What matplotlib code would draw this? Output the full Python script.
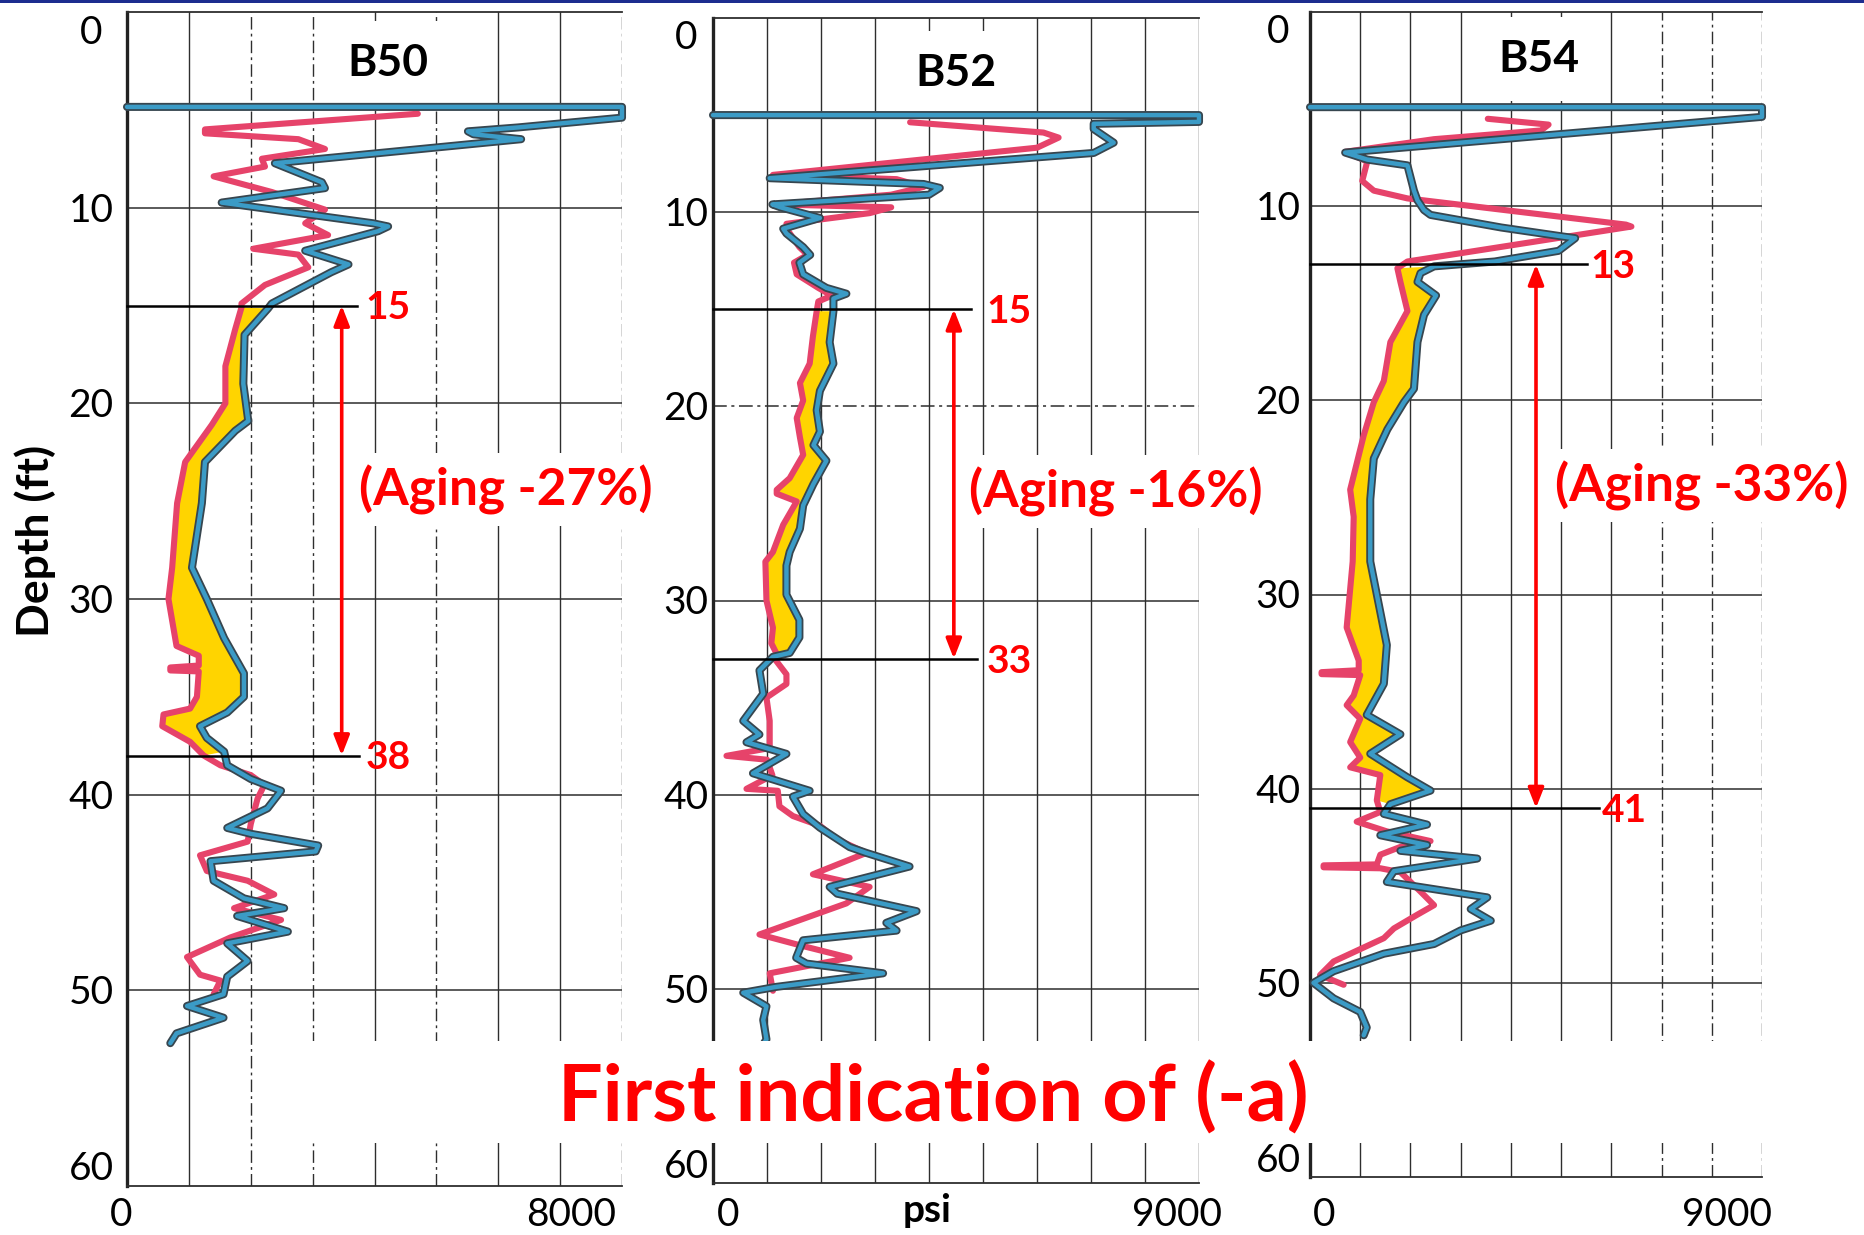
import numpy as np
import matplotlib
matplotlib.use("Agg")
import matplotlib.pyplot as plt
import matplotlib.transforms as mtransforms
from matplotlib import patheffects as pe
from matplotlib.patches import Rectangle

plt.rcParams['font.family'] = ['Lato', 'DejaVu Sans']

W, H, DPI = 1864, 1235, 100

# ---------------- data: (tip resistance psi, depth ft) ----------------
b50_red = [(4700, 5.2), (1260, 6.0), (1260, 6.2), (2770, 6.5), (3200, 7.0), (2180, 7.5),
           (2230, 7.9), (1400, 8.4), (2340, 9.2), (3200, 10.1), (2880, 10.8), (3250, 11.4),
           (2040, 12.1), (2770, 12.4), (2930, 13.05), (2500, 13.6), (2230, 13.95), (1850, 14.9),
           (1850, 15.1), (1750, 16.2), (1590, 18.1), (1590, 20.0), (1370, 21.1), (940, 23.0),
           (810, 25.1), (730, 28.4), (670, 30.0), (800, 32.4), (1160, 32.9), (1160, 33.4),
           (700, 33.5), (700, 33.65), (1160, 33.7), (1130, 35.0), (1020, 35.6), (590, 35.9),
           (570, 36.5), (1020, 37.3), (1240, 38.0), (1510, 38.5), (2000, 39.0), (2220, 39.5),
           (2110, 40.2), (2000, 41.5), (1950, 42.4), (1180, 43.1), (1290, 43.9), (1950, 44.4),
           (2380, 45.1), (1730, 45.8), (2490, 46.4), (1670, 47.3), (970, 48.3), (1180, 49.2),
           (1510, 49.5), (1400, 50.2)]
b50_blue = [(0, 4.85), (8000, 4.85), (8000, 5.4), (6320, 5.9), (5510, 6.1), (5600, 6.25),
            (6370, 6.5), (2390, 7.73), (3150, 8.7), (3200, 9.0), (1530, 9.74), (3980, 10.8),
            (4220, 10.96), (4060, 11.2), (2880, 12.2), (3580, 12.9), (3300, 13.3), (2820, 14.1),
            (2340, 14.9), (2280, 15.15), (1900, 16.5), (1880, 19.0), (1960, 20.9), (1750, 21.4),
            (1260, 23.0), (1210, 25.1), (1050, 28.4), (1290, 30.0), (1570, 32.0), (1890, 33.8),
            (1890, 35.0), (1620, 35.8), (1180, 36.5), (1290, 37.1), (1570, 37.8), (1620, 38.5),
            (2000, 39.2), (2490, 39.8), (2270, 40.7), (1620, 41.7), (2000, 42.0), (3090, 42.6),
            (3050, 42.9), (1350, 43.4), (1400, 44.4), (1890, 45.3), (2540, 45.8), (1780, 46.2),
            (2600, 47.0), (1620, 47.6), (1950, 48.5), (1620, 49.3), (1560, 50.2), (970, 50.8),
            (1560, 51.4), (800, 52.2), (700, 52.7)]

b52_red = [(3650, 5.37), (6120, 5.9), (6400, 6.16), (6000, 6.68), (1110, 8.08), (3400, 8.3),
           (3900, 8.7), (3300, 9.1), (1150, 9.6), (3300, 9.75), (2900, 10.05), (1360, 10.6),
           (1400, 11.0), (1600, 11.8), (1750, 12.2), (1500, 12.6), (1550, 13.2), (1950, 13.9),
           (2200, 14.3), (1950, 14.6), (1920, 15.1), (1850, 16.4), (1790, 17.8), (1610, 18.8),
           (1670, 19.7), (1550, 20.6), (1610, 21.6), (1670, 22.5), (1420, 23.7), (1180, 24.3),
           (1180, 24.5), (1550, 24.9), (1300, 26.1), (1110, 27.5), (970, 28.0), (990, 30.0),
           (1110, 31.4), (1080, 32.2), (1170, 32.7), (1140, 33.0), (1360, 33.8), (1360, 34.3),
           (990, 35.0), (1050, 36.2), (1050, 37.6), (250, 38.0), (1000, 38.2), (1100, 39.0),
           (620, 39.7), (1200, 39.8), (1230, 40.6), (1480, 41.1), (1980, 41.6), (2300, 42.3),
           (2840, 43.0), (1850, 44.1), (2900, 44.75), (2470, 45.6), (860, 47.2), (1670, 47.8),
           (2530, 48.4), (1050, 49.2), (1110, 50.1)]
b52_blue = [(0, 5.0), (9000, 5.0), (9000, 5.35), (7050, 5.45), (7050, 5.72), (7420, 6.42),
            (7050, 6.95), (1050, 8.25), (3900, 8.55), (4200, 8.75), (4000, 9.1), (1100, 9.6),
            (1250, 9.75), (1980, 10.3), (1300, 10.85), (1360, 11.1), (1670, 11.8), (1800, 12.2),
            (1600, 12.6), (1670, 13.2), (2100, 13.9), (2470, 14.2), (2230, 14.45), (2230, 15.1),
            (2160, 16.7), (2230, 17.8), (1980, 19.2), (1920, 20.2), (1980, 21.3), (1860, 22.0),
            (2100, 22.8), (1860, 24.0), (1670, 25.1), (1610, 26.3), (1420, 27.5), (1360, 28.2),
            (1360, 29.7), (1600, 31.0), (1600, 31.9), (1420, 32.7), (1110, 32.9), (860, 33.6),
            (930, 34.8), (560, 36.2), (860, 36.9), (620, 37.3), (1360, 37.9), (740, 38.9),
            (1790, 39.8), (1480, 40.1), (1670, 41.0), (1980, 41.7), (2530, 42.7), (2840, 43.0),
            (3640, 43.7), (2160, 44.75), (2300, 45.1), (3770, 46.0), (3210, 46.6), (3400, 47.0),
            (1670, 47.5), (1540, 48.4), (1730, 48.7), (3150, 49.2), (1170, 49.9), (560, 50.2),
            (990, 50.9), (930, 51.6), (990, 52.6), (900, 53.0)]

b54_red = [(3540, 5.5), (4750, 5.8), (4600, 6.1), (2470, 6.55), (700, 7.2), (1140, 7.7),
           (1040, 8.7), (1270, 9.2), (1940, 9.6), (6290, 10.95), (6400, 11.05), (1940, 12.85),
           (1740, 13.2), (1800, 13.9), (1940, 15.4), (1600, 17.0), (1470, 19.0), (1270, 20.1),
           (1070, 21.8), (800, 24.6), (870, 26.0), (850, 28.3), (730, 31.7), (970, 33.4),
           (970, 33.9), (230, 34.0), (230, 34.1), (1000, 34.15), (870, 35.2), (730, 35.7),
           (1000, 36.4), (800, 37.6), (1000, 38.4), (800, 38.9), (1400, 39.3), (1330, 40.6),
           (1400, 41.2), (930, 41.7), (1530, 42.2), (2400, 42.7), (1800, 43.0), (1400, 43.4),
           (1330, 43.9), (270, 43.95), (270, 44.05), (1400, 44.1), (1800, 44.3), (2200, 45.3),
           (2470, 46.0), (2130, 46.5), (1670, 47.2), (1470, 47.7), (470, 48.9), (200, 49.6),
           (670, 50.1)]
b54_blue = [(0, 4.9), (9000, 4.9), (9000, 5.4), (700, 7.24), (1140, 7.6), (1940, 7.9),
            (2070, 9.2), (2140, 9.7), (2270, 10.2), (2400, 10.45), (3810, 11.1), (5000, 11.55),
            (5280, 11.65), (4950, 12.3), (3680, 12.85), (2470, 13.1), (2200, 13.45), (2140, 13.9),
            (2510, 14.6), (2270, 15.6), (2140, 17.0), (2070, 19.4), (1870, 20.1), (1540, 21.5),
            (1270, 23.0), (1200, 25.1), (1200, 28.3), (1530, 32.6), (1470, 34.6), (1130, 36.2),
            (1800, 37.2), (1200, 38.2), (1930, 39.4), (2400, 40.1), (1600, 40.8), (1470, 41.3),
            (2330, 41.85), (1400, 42.4), (2330, 42.9), (1800, 43.2), (3330, 43.6), (1670, 44.25),
            (1530, 44.8), (3530, 45.6), (3200, 46.2), (3600, 46.8), (3000, 47.3), (2470, 48.0),
            (1470, 48.5), (470, 49.4), (70, 50.0), (470, 50.8), (1000, 51.5), (1130, 52.3),
            (1070, 52.7)]

borings = ["B50", "B52", "B54"]
red_logs = [b50_red, b52_red, b54_red]
blue_logs = [b50_blue, b52_blue, b54_blue]
psi_max = [8000, 9000, 9000]
depth_ticks = [0, 10, 20, 30, 40, 50, 60]
zone_top = [15, 15, 13]
zone_bottom = [38, 33, 41]
aging_pct = [-27, -16, -33]

# ---------------- layout (pixels) ----------------
panel_box = [(127, 12, 622, 1186), (713, 18, 1199, 1183), (1310, 12, 1762, 1177)]
ylabel_cx = [91, 686, 1278]
xlabel_zero_cx = [121, 728, 1324]
xlabel_max_right = [616, 1222, 1772]
title_xy = [(388, 63), (956, 73), (1539, 59)]
dashed_x = [[2000, 3000, 5000, 8000], [], [7000, 8000, 9000]]
dashed_y = [[], [20], []]
arrow_psi = [3470, 4460, 4500]
line_end_psi = [(3720, 3750), (4780, 4890), (5510, 5750)]
label_psi = [(3860, 3860), (5070, 5070), (5590, 5810)]
aging_psi = [3750, 4740, 4880]

RED = "#e6436a"
BLUE = "#3b9bc6"
BLUE_EDGE = "#37464f"
YELLOW = "#ffd400"
GRID = "#2e2e2e"
ANNO = "#ff0000"

fig = plt.figure(figsize=(W / DPI, H / DPI), dpi=DPI)
fig.patch.set_facecolor("white")


def fxy(x, y):
    return x / W, 1 - y / H


for i, name in enumerate(borings):
    l, t, r, b = panel_box[i]
    ax = fig.add_axes([l / W, 1 - b / H, (r - l) / W, (b - t) / H])
    ax.set_xlim(0, psi_max[i])
    ax.set_ylim(depth_ticks[-1], depth_ticks[0])
    ax.set_xticks([])
    ax.set_yticks([])
    ax.spines["right"].set_visible(False)
    ax.spines["left"].set_linewidth(2.4)
    ax.spines["left"].set_color("#222222")
    for s in ("top", "bottom"):
        ax.spines[s].set_linewidth(1.3)
        ax.spines[s].set_color(GRID)

    # chart-paper grid
    for xv in range(1000, psi_max[i] + 1, 1000):
        ls = (0, (9, 3, 2, 3)) if xv in dashed_x[i] else "-"
        ax.axvline(xv, color=GRID, lw=1.0, ls=ls, zorder=1)
    for yv in depth_ticks[1:-1]:
        ls = (0, (9, 3, 2, 3)) if yv in dashed_y[i] else "-"
        ax.axhline(yv, color=GRID, lw=1.1, ls=ls, zorder=1)

    red = np.array(red_logs[i], dtype=float)
    blue = np.array(blue_logs[i], dtype=float)

    # shaded loss zone between the two soundings
    zt, zb = zone_top[i], zone_bottom[i]
    rm = (red[:, 1] >= zt) & (red[:, 1] <= zb)
    bm = (blue[:, 1] >= zt) & (blue[:, 1] <= zb)
    poly_x = np.concatenate([red[rm, 0], blue[bm, 0][::-1]])
    poly_y = np.concatenate([red[rm, 1], blue[bm, 1][::-1]])
    ax.fill(poly_x, poly_y, color=YELLOW, lw=0, zorder=2)

    ax.plot(red[:, 0], red[:, 1], color=RED, lw=4.4, solid_joinstyle="round",
            solid_capstyle="round", zorder=3, clip_on=False)
    ax.plot(blue[:, 0], blue[:, 1], color=BLUE, lw=3.2, solid_joinstyle="round",
            solid_capstyle="round", zorder=4, clip_on=False,
            path_effects=[pe.Stroke(linewidth=5.8, foreground=BLUE_EDGE), pe.Normal()])

    # zone boundaries, arrow and labels
    for k, (dv, xend) in enumerate(zip((zt, zb), line_end_psi[i])):
        ax.plot([0, xend], [dv, dv], color="black", lw=1.8, zorder=6, clip_on=False)
        ax.annotate(str(dv), xy=(label_psi[i][k], dv), xytext=(0, -10),
                    textcoords="offset points", ha="left", va="baseline",
                    fontsize=28, fontweight="bold", color=ANNO, zorder=7,
                    annotation_clip=False)
    ax.annotate("", xy=(arrow_psi[i], zb), xytext=(arrow_psi[i], zt),
                arrowprops=dict(arrowstyle="<|-|>,head_length=1.2,head_width=0.47",
                                color=ANNO, lw=2.6, shrinkA=0, shrinkB=0),
                zorder=7, annotation_clip=False)
    ax.text(aging_psi[i], 25.2, f"(Aging {aging_pct[i]}%)", ha="left", va="baseline",
            fontsize=37, fontweight="bold", color=ANNO, zorder=8, clip_on=False,
            bbox=dict(boxstyle="square,pad=0.22", fc="white", ec="none"))

    # title, boxed over the grid but beneath the traces
    ax.text(*fxy(*title_xy[i]), name, transform=fig.transFigure, ha="center",
            va="center", fontsize=32, fontweight="bold", color="black", zorder=2.5,
            bbox=dict(boxstyle="square,pad=0.5", fc="white", ec="none"))

    # depth labels
    trans = mtransforms.blended_transform_factory(fig.transFigure, ax.transData) + \
        mtransforms.ScaledTranslation(0, -14 / DPI, fig.dpi_scale_trans)
    for dv in depth_ticks:
        ax.text(ylabel_cx[i] / W, float(np.clip(dv, 0.9, 59.0)), str(dv), transform=trans,
                ha="center", va="baseline", fontsize=28, color="black", clip_on=False)

    # psi labels
    fig.text(*fxy(xlabel_zero_cx[i], 1226), "0", ha="center", va="baseline",
             fontsize=28, color="black")
    fig.text(*fxy(xlabel_max_right[i], 1226), str(psi_max[i]), ha="right", va="baseline",
             fontsize=28, color="black")

fig.text(*fxy(927, 1222), "psi", ha="center", va="baseline", fontsize=28,
         fontweight="bold", color="black")
fig.text(*fxy(35, 541), "Depth (ft)", ha="center", va="center", rotation=90,
         fontsize=32, fontweight="bold", color="black")

# banner strip across the bottom of the logs
x0, y0 = fxy(265, 1143)
fig.add_artist(Rectangle((x0, y0), (1850 - 265) / W, (1143 - 1041) / H,
                         transform=fig.transFigure, fc="white", ec="none", zorder=2))
fig.text(*fxy(933, 1122), "First indication of (-a)", ha="center", va="baseline",
         fontsize=57, fontweight="bold", color=ANNO, zorder=3)

# thin navy rule at the top edge
fig.add_artist(Rectangle((0, 1 - 3 / H), 1, 3 / H, transform=fig.transFigure,
                         fc="#1d2d8f", ec="none", zorder=3))

fig.savefig("out.png", dpi=DPI, facecolor="white")
